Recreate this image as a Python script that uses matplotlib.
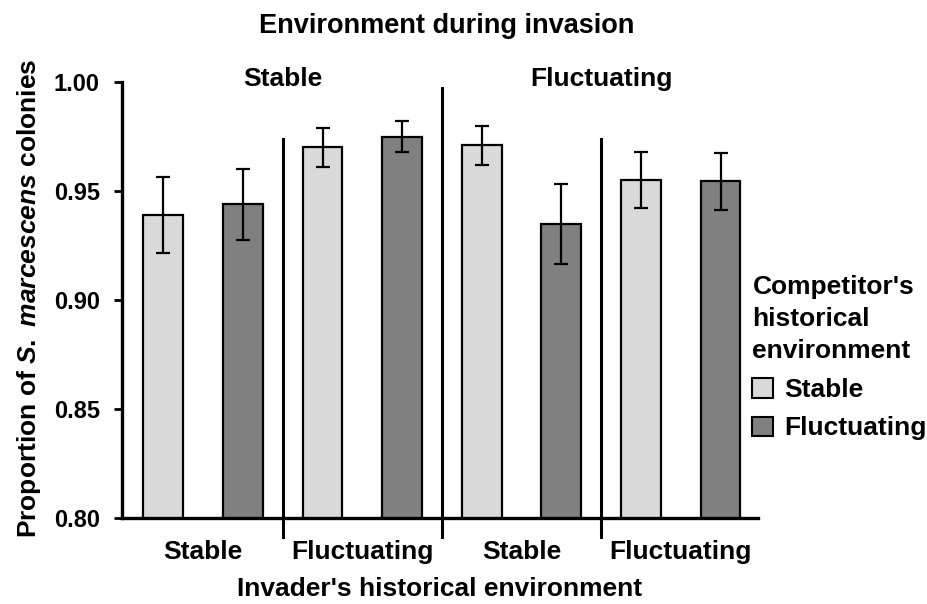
import numpy as np
import matplotlib.pyplot as plt
from matplotlib.patches import Patch
import matplotlib.transforms as mtransforms

plt.rcParams['font.family'] = 'Liberation Sans'
plt.rcParams['font.weight'] = 'bold'
plt.rcParams['mathtext.fontset'] = 'custom'
plt.rcParams['mathtext.it'] = 'Liberation Sans:italic:bold'
plt.rcParams['mathtext.rm'] = 'Liberation Sans:bold'

# data
invasion_env = ["Stable", "Fluctuating"]
invader_env = ["Stable", "Fluctuating", "Stable", "Fluctuating"]
competitor_env = ["Stable", "Fluctuating"]
stable_comp_mean = [0.939, 0.970, 0.971, 0.955]
stable_comp_err = [0.0173, 0.0089, 0.0089, 0.013]
fluct_comp_mean = [0.944, 0.975, 0.935, 0.9545]
fluct_comp_err = [0.0163, 0.007, 0.0183, 0.013]
yticks = [0.80, 0.85, 0.90, 0.95, 1.00]

light = '#d9d9d9'
dark = '#808080'
fs = 19

fig = plt.figure(figsize=(9.27, 6.04), dpi=100)
ax = fig.add_axes([122/927, 1 - 518/604, (758-122)/927, (518-82)/604])

groups = np.arange(len(invader_env))
x_light = groups * 2
x_dark = groups * 2 + 1

ax.bar(x_light, stable_comp_mean, width=0.5, color=light, edgecolor='black', linewidth=1.6, zorder=2)
ax.bar(x_dark, fluct_comp_mean, width=0.5, color=dark, edgecolor='black', linewidth=1.6, zorder=2)
ax.errorbar(x_light, stable_comp_mean, yerr=stable_comp_err, fmt='none', ecolor='black',
            elinewidth=1.6, capsize=5, capthick=1.6, zorder=3)
ax.errorbar(x_dark, fluct_comp_mean, yerr=fluct_comp_err, fmt='none', ecolor='black',
            elinewidth=1.6, capsize=5, capthick=1.6, zorder=3)

ax.set_xlim(-0.52, 7.47)
ax.set_ylim(0.80, 1.00)
ax.set_yticks(yticks)
ax.set_yticklabels([f"{t:.2f}" for t in yticks], fontsize=17, fontweight='bold')
ax.set_xticks([])
ax.tick_params(axis='y', length=6, width=2, pad=10, direction='out')
for s in ['top', 'right']:
    ax.spines[s].set_visible(False)
for s in ['left', 'bottom']:
    ax.spines[s].set_linewidth(2.4)

# separators between groups
trans = mtransforms.blended_transform_factory(ax.transData, ax.transAxes)
for i in range(len(invader_env) - 1):
    xs = 2 * i + 1.5
    top = 0.986 if i == 1 else 0.869
    ax.plot([xs, xs], [-0.044, top], color='black', lw=2.2, transform=trans, clip_on=False, zorder=4)

# group labels
for i, lab in enumerate(invader_env):
    ax.text(2 * i + 0.5, -0.078, lab, transform=trans, ha='center', va='center', fontsize=fs, fontweight='bold')
for j, lab in enumerate(invasion_env):
    ax.text(4 * j + 1.5, 1.006, lab, transform=trans, ha='center', va='center', fontsize=fs, fontweight='bold')

ax.text(0.51, 1.128, "Environment during invasion", transform=ax.transAxes, ha='center', va='center',
        fontsize=19.5, fontweight='bold')
ax.text(0.5, -0.163, "Invader's historical environment", transform=ax.transAxes, ha='center', va='center',
        fontsize=fs, fontweight='bold')
ax.set_ylabel(r"Proportion of $\mathit{S.\ marcescens}$ colonies", fontsize=fs, fontweight='bold')
ax.yaxis.set_label_coords(-0.124, 0.505)

handles = [Patch(facecolor=light, edgecolor='black', linewidth=1.5),
           Patch(facecolor=dark, edgecolor='black', linewidth=1.5)]
leg = fig.legend(handles, competitor_env, title="Competitor's\nhistorical\nenvironment",
                 loc='upper left', bbox_to_anchor=(734/927, 1 - 257/604), frameon=False,
                 fontsize=fs, title_fontsize=fs, alignment='left',
                 handlelength=0.76, handleheight=0.76, handletextpad=0.45, labelspacing=0.55,
                 borderpad=0.2)
leg.get_title().set_fontweight('bold')
leg.get_title().set_linespacing(1.42)

fig.savefig("out.png", dpi=100)
